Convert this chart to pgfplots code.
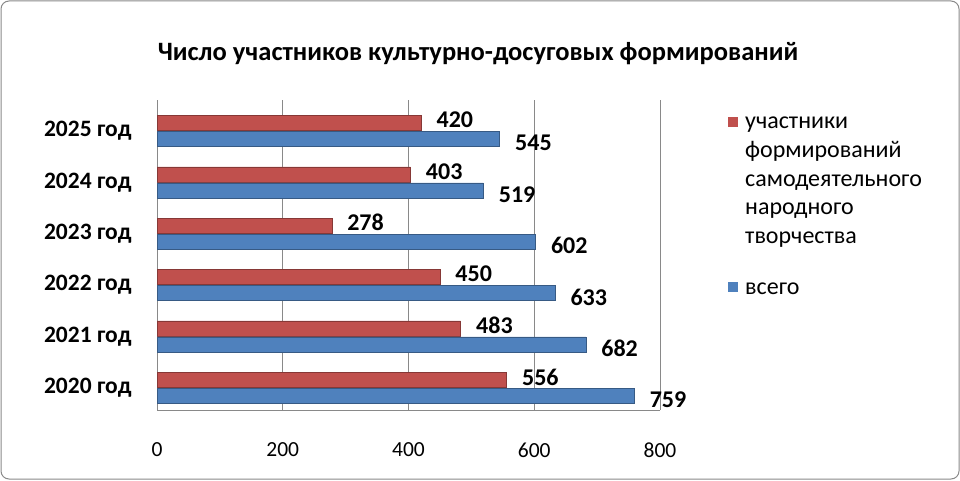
\documentclass[border=0pt]{standalone}
\usepackage{fontspec}
\setmainfont{Carlito}
\usepackage{pgfplots}
\pgfplotsset{compat=1.18}
\definecolor{cred}{HTML}{C0504D}
\definecolor{cblue}{HTML}{4F81BD}
\definecolor{gridc}{HTML}{898989}
\begin{document}
\begin{tikzpicture}[x=1pt,y=1pt]
\path[use as bounding box] (0,0) rectangle (960,480);
\draw[gridc, line width=1pt, rounded corners=8pt] (1,1) rectangle (959,479);
\node[font=\bfseries\fontsize{26.5}{30}\selectfont] at (478,426) {Число участников культурно-досуговых формирований};
\begin{axis}[at={(157pt,70pt)}, anchor=south west, scale only axis,
  width=503pt, height=310pt,
  xmin=0, xmax=800, ymin=-0.43, ymax=5.6,
  xtick={0,200,400,600,800}, ytick={0,1,2,3,4,5},
  yticklabels={2020 год,2021 год,2022 год,2023 год,2024 год,2025 год},
  /pgf/number format/assume math mode=true,
  xbar, bar width=15pt,
  axis x line*=bottom, axis y line*=left,
  axis line style={gridc, line width=1pt},
  grid=none, xmajorgrids, major grid style={gridc, line width=1pt},
  major tick length=0pt,
  xticklabel style={font=\fontsize{21.5}{24}\selectfont, yshift=-29pt},
  yticklabel style={font=\bfseries\fontsize{23.5}{26}\selectfont, xshift=-22pt},
  nodes near coords,
  every node near coord/.append style={font=\bfseries\fontsize{24}{26}\selectfont, xshift=12pt},
]
\addplot[fill=cred, draw=cred!70!black, bar shift=8pt,
  every node near coord/.append style={yshift=3pt}]
  coordinates {(556,0) (483,1) (450,2) (278,3) (403,4) (420,5)};
\addplot[fill=cblue, draw=cblue!70!black, bar shift=-8pt,
  every node near coord/.append style={yshift=-4pt}]
  coordinates {(759,0) (682,1) (633,2) (602,3) (519,4) (545,5)};
\end{axis}
\fill[cred] (728,353) rectangle (738,363);
\fill[cblue] (728,188) rectangle (738,198);
\begin{scope}[every node/.style={anchor=base west, inner sep=0pt, font=\fontsize{24}{26}\selectfont}]
\node at (745,351) {участники};
\node at (745,322.5) {формирований};
\node at (745,294) {самодеятельного};
\node at (745,265.5) {народного};
\node at (745,237) {творчества};
\node at (745,186) {всего};
\end{scope}
\end{tikzpicture}
\end{document}
